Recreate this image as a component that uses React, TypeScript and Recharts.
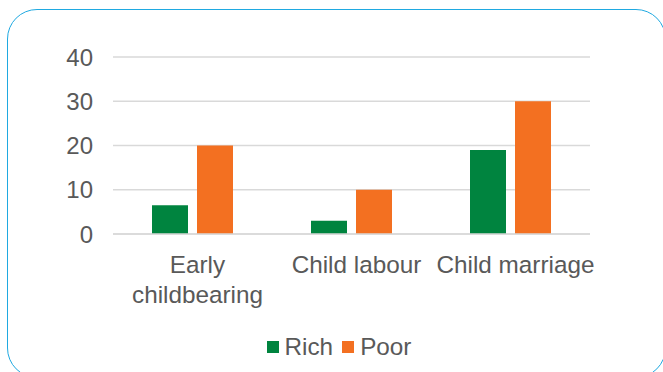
import { BarChart, Bar, XAxis, YAxis, CartesianGrid, Legend } from 'recharts';

const categories = ['Early childbearing', 'Child labour', 'Child marriage'];
const rich = [6.5, 3, 19];
const poor = [20, 10, 30];
const yTicks = [0, 10, 20, 30, 40];

const GREEN = '#00843f';
const ORANGE = '#f37021';
const TEXT = '#595959';
const FONT = '"Liberation Sans", Arial, sans-serif';

const data = categories.map((name, i) => ({ name, Rich: rich[i], Poor: poor[i] }));

let ctx: CanvasRenderingContext2D | null = null;
function wrapWords(label: string, maxWidth: number) {
  if (!ctx) ctx = document.createElement('canvas').getContext('2d');
  if (ctx) ctx.font = `24px ${FONT}`;
  const measure = (s: string) => (ctx ? ctx.measureText(s).width : s.length * 12);
  const lines: string[] = [];
  let cur = '';
  for (const w of label.split(' ')) {
    const next = cur ? cur + ' ' + w : w;
    if (cur && measure(next) > maxWidth) {
      lines.push(cur);
      cur = w;
    } else cur = next;
  }
  if (cur) lines.push(cur);
  return lines;
}

function CategoryTick({ x, y, payload }: any) {
  const lines = wrapWords(payload.value, 165);
  const cx = x + 5;
  return (
    <text x={cx} y={y} textAnchor="middle" fontSize={24.3} fontFamily={FONT} fill={TEXT}>
      {lines.map((l, i) => (
        <tspan key={i} x={cx} dy={i === 0 ? 17 : 30}>
          {l}
        </tspan>
      ))}
    </text>
  );
}

function LegendContent() {
  const items = [
    { label: 'Rich', color: GREEN },
    { label: 'Poor', color: ORANGE },
  ];
  return (
    <div style={{ display: 'flex', justifyContent: 'center', alignItems: 'center', height: 30, paddingLeft: 15, fontFamily: FONT, fontSize: 24.3, color: TEXT }}>
      {items.map((it, i) => (
        <div key={it.label} style={{ display: 'flex', alignItems: 'center', marginLeft: i ? 9 : 0 }}>
          <span style={{ width: 12, height: 12, background: it.color, display: 'inline-block', marginRight: 6 }} />
          <span>{it.label}</span>
        </div>
      ))}
    </div>
  );
}

export default function App() {
  return (
    <div style={{ position: 'absolute', left: 0, top: 0, width: 663, height: 372, overflow: 'hidden', background: '#fff' }}>
      <div
        style={{
          position: 'absolute',
          left: 7,
          top: 9,
          width: 659,
          height: 369,
          border: '1.5px solid #1fa9e1',
          borderRadius: 30,
          boxSizing: 'border-box',
        }}
      />
      <BarChart
        width={663}
        height={372}
        data={data}
        margin={{ top: 57, right: 73, left: 0, bottom: 0 }}
        barSize={36}
        barGap={9}
        style={{ position: 'absolute', left: 0, top: 0 }}
      >
        <CartesianGrid horizontal vertical={false} stroke="#d9d9d9" strokeWidth={1.5} />
        <XAxis
          dataKey="name"
          height={108}
          axisLine={{ stroke: '#d9d9d9', strokeWidth: 1.5 }}
          tickLine={false}
          tickSize={0}
          tickMargin={22}
          interval={0}
          tick={(p: any) => <CategoryTick {...p} />}
        />
        <YAxis
          width={113}
          domain={[0, 40]}
          ticks={yTicks}
          axisLine={false}
          tickLine={false}
          tickSize={0}
          tickMargin={20}
          tick={{ fontSize: 24, fill: TEXT, fontFamily: FONT }}
        />
        <Legend
          content={<LegendContent />}
          verticalAlign="bottom"
          wrapperStyle={{ top: 332, left: 0, width: 663 }}
        />
        <Bar dataKey="Rich" fill={GREEN} isAnimationActive={false} />
        <Bar dataKey="Poor" fill={ORANGE} isAnimationActive={false} />
      </BarChart>
    </div>
  );
}
